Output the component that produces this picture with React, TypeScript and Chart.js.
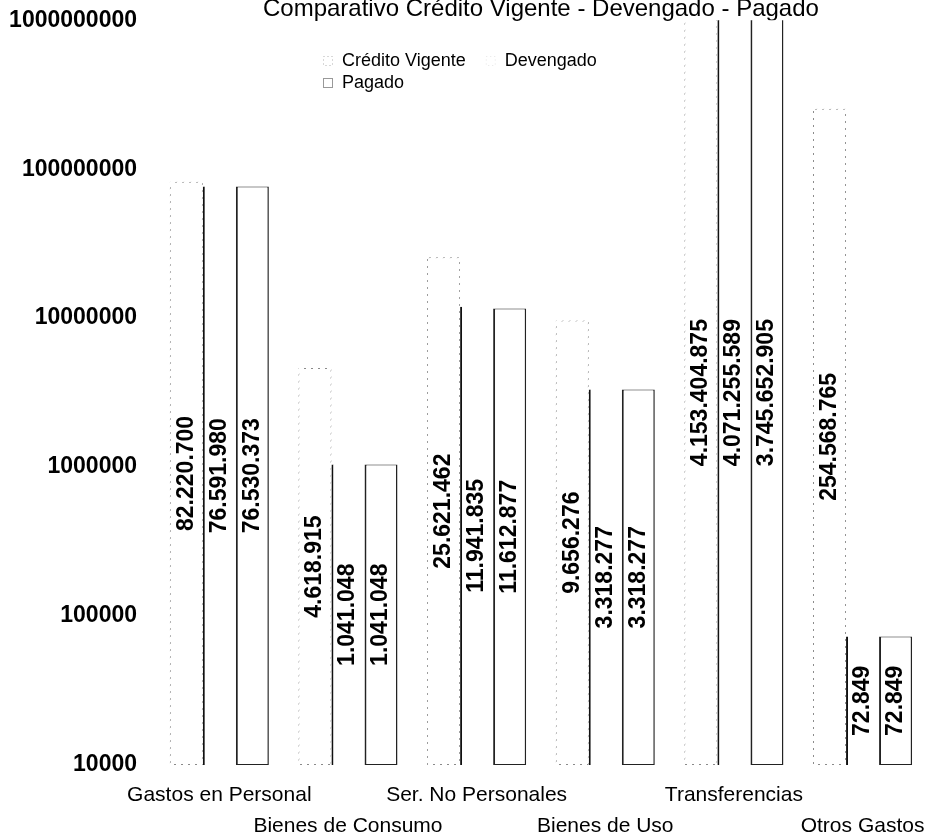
import React, { useEffect, useRef } from 'react';
import { Chart, registerables } from 'chart.js';

Chart.register(...registerables);

// ---- data ----
const categories = [
  'Gastos en Personal',
  'Bienes de Consumo',
  'Ser. No Personales',
  'Bienes de Uso',
  'Transferencias',
  'Otros Gastos',
];
const creditoVigente = [82220700, 4618915, 25621462, 9656276, 4153404875, 254568765];
const devengado = [76591980, 1041048, 11941835, 3318277, 4071255589, 72849];
const pagado = [76530373, 1041048, 11612877, 3318277, 3745652905, 72849];
const yTickValues = [10000, 100000, 1000000, 10000000, 100000000, 1000000000];
const seriesNames = ['Crédito Vigente', 'Devengado', 'Pagado'];
const chartTitle = 'Comparativo Crédito Vigente - Devengado - Pagado';

// ---- styling ----
const FONT = '"Liberation Sans", Arial, Helvetica, sans-serif';
const LEGEND_X = 323;
const LEGEND_Y = 61;
const LEGEND_ROW = 22;
const LEGEND_PER_ROW = 2;
const swatchStroke = ['#b0b0b0', '#e4e4e4', '#333333'];
const swatchDash = [[1, 3], [1, 3], [1, 1]];

function fmt(v: number): string {
  return String(Math.round(v)).replace(/\B(?=(\d{3})+(?!\d))/g, '.');
}

function makeDashPattern(ctx: CanvasRenderingContext2D, color: string, on: number, period: number) {
  const c = document.createElement('canvas');
  c.width = period;
  c.height = period;
  const g = c.getContext('2d') as CanvasRenderingContext2D;
  g.fillStyle = color;
  for (let x = 0; x < period; x++) {
    for (let y = 0; y < period; y++) {
      if ((x + y) % period < on) g.fillRect(x, y, 1, 1);
    }
  }
  return ctx.createPattern(c, 'repeat');
}

const valueLabelPlugin = {
  id: 'valueLabels',
  afterDatasetsDraw(chart: any) {
    const { ctx, chartArea } = chart;
    ctx.save();
    ctx.font = `bold 23px ${FONT}`;
    ctx.fillStyle = '#000';
    ctx.textAlign = 'center';
    ctx.textBaseline = 'middle';
    chart.data.datasets.forEach((ds: any, di: number) => {
      const meta = chart.getDatasetMeta(di);
      meta.data.forEach((el: any, i: number) => {
        const { x, y, base } = el.getProps(['x', 'y', 'base'], true);
        const top = Math.max(Math.min(y, base), chartArea.top);
        const bottom = Math.min(Math.max(y, base), chartArea.bottom);
        const cy = (top + bottom) / 2;
        ctx.save();
        ctx.translate(x, cy);
        ctx.rotate(-Math.PI / 2);
        ctx.fillText(fmt(ds.data[i]), 0, 0);
        ctx.restore();
      });
    });
    ctx.restore();
  },
};

const legendPlugin = {
  id: 'scanLegend',
  afterDraw(chart: any) {
    const { ctx } = chart;
    ctx.save();
    ctx.font = `18px ${FONT}`;
    ctx.textBaseline = 'middle';
    ctx.textAlign = 'left';
    let x = LEGEND_X;
    let y = LEGEND_Y;
    chart.data.datasets.forEach((ds: any, i: number) => {
      if (i > 0 && i % LEGEND_PER_ROW === 0) {
        x = LEGEND_X;
        y += LEGEND_ROW;
      }
      ctx.save();
      ctx.setLineDash(swatchDash[i]);
      ctx.strokeStyle = swatchStroke[i];
      ctx.lineWidth = 1;
      ctx.strokeRect(x + 0.5, y - 5 + 0.5, 9, 9);
      ctx.restore();
      ctx.fillStyle = '#000';
      ctx.fillText(ds.label, x + 19, y);
      x += 19 + ctx.measureText(ds.label).width + 20;
    });
    ctx.restore();
  },
};

export default function App() {
  const canvasRef = useRef<HTMLCanvasElement | null>(null);

  useEffect(() => {
    const canvas = canvasRef.current;
    if (!canvas) return;
    const ctx = canvas.getContext('2d') as CanvasRenderingContext2D;
    const faintDash = makeDashPattern(ctx, '#8a8a8a', 2, 7);

    const chart = new Chart(canvas, {
      type: 'bar',
      data: {
        labels: categories,
        datasets: [
          {
            label: seriesNames[0],
            data: creditoVigente,
            backgroundColor: '#ffffff',
            borderColor: faintDash as any,
            borderWidth: 1,
            borderSkipped: false,
          },
          {
            label: seriesNames[1],
            data: devengado,
            backgroundColor: '#ffffff',
            borderColor: '#111111',
            borderWidth: { left: 2, right: 0, top: 0, bottom: 0 },
            borderSkipped: false,
          },
          {
            label: seriesNames[2],
            data: pagado,
            backgroundColor: '#ffffff',
            borderColor: '#222222',
            borderWidth: { left: 2, right: 1.5, top: 1, bottom: 1 },
            borderSkipped: false,
          },
        ],
      },
      options: {
        animation: false,
        responsive: true,
        maintainAspectRatio: false,
        devicePixelRatio: 1,
        events: [],
        layout: { padding: { left: 10, right: 5, top: 0, bottom: 0 } },
        datasets: {
          bar: { categoryPercentage: 0.77, barPercentage: 1.0 },
        },
        plugins: {
          legend: { display: false },
          tooltip: { enabled: false },
          title: {
            display: true,
            text: chartTitle,
            color: '#000',
            fullSize: false,
            font: { family: FONT, size: 24, weight: 'normal', lineHeight: 0.8 },
            padding: { top: 0, bottom: 1 },
          },
        },
        scales: {
          x: {
            type: 'category',
            grid: { display: false, drawTicks: false },
            border: { display: false },
            afterFit: (scale: any) => {
              scale.height = 75;
            },
            ticks: {
              autoSkip: false,
              maxRotation: 0,
              minRotation: 0,
              padding: 14.5,
              color: '#000',
              font: { family: FONT, size: 21, lineHeight: 1.48 },
              callback: (_v: any, index: number) =>
                index % 2 === 1 ? ['', categories[index]] : categories[index],
            },
          },
          y: {
            type: 'logarithmic',
            min: yTickValues[0],
            max: yTickValues[yTickValues.length - 1],
            grid: { display: false, drawTicks: false },
            border: { display: false },
            afterFit: (scale: any) => {
              scale.width = 145;
              scale.paddingTop = 0;
              scale.paddingBottom = 0;
            },
            afterBuildTicks: (scale: any) => {
              scale.ticks = yTickValues.map((v) => ({ value: v }));
            },
            ticks: {
              padding: 18,
              color: '#000',
              font: { family: FONT, size: 23, weight: 'bold' },
              callback: (v: any) => String(v),
            },
          },
        },
      },
      plugins: [valueLabelPlugin, legendPlugin],
    });

    return () => chart.destroy();
  }, []);

  return (
    <div style={{ position: 'absolute', left: 0, top: 0, width: 940, height: 840, background: '#fff' }}>
      <canvas ref={canvasRef} />
    </div>
  );
}
